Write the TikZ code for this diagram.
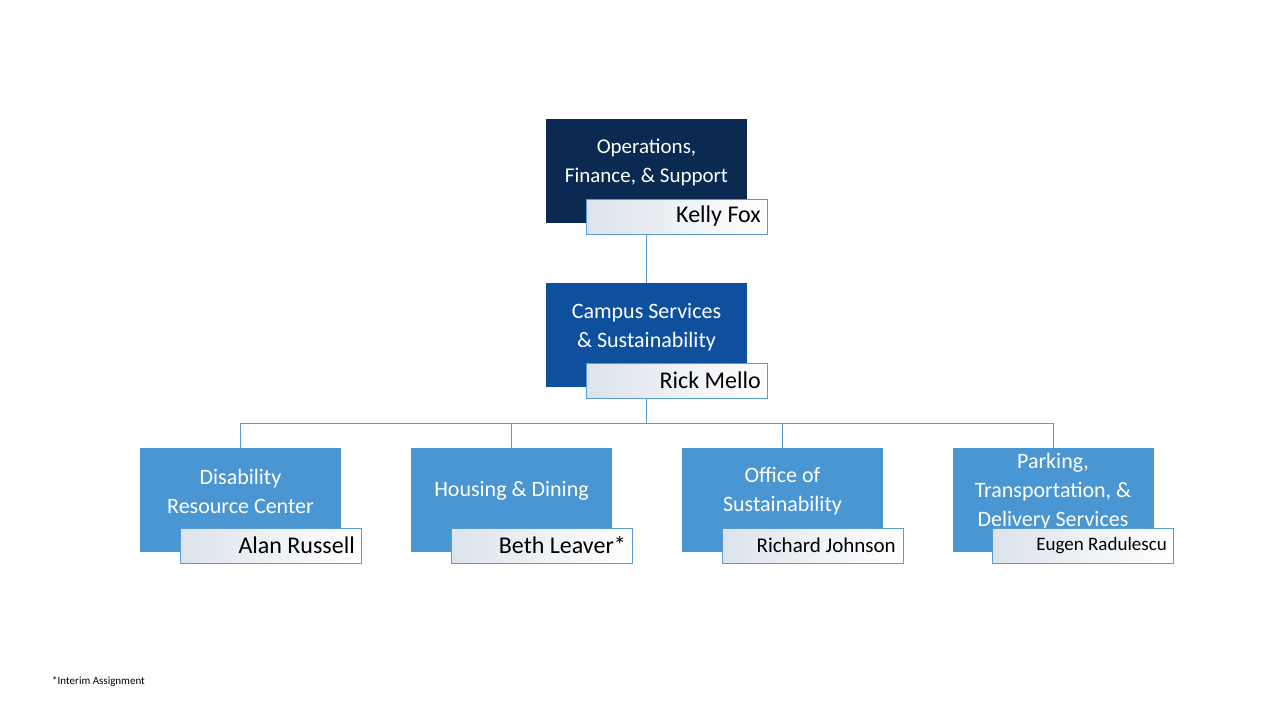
\documentclass[tikz,border=0pt]{standalone}
\usepackage{fontspec}
\setmainfont{Carlito}
\definecolor{navy}{HTML}{0B2A52}
\definecolor{midblue}{HTML}{0E4F9E}
\definecolor{lightblue}{HTML}{4A96D2}
\definecolor{edge}{HTML}{5B9BD5}
\definecolor{shadeL}{HTML}{DCE3EC}
\begin{document}
\begin{tikzpicture}[x=1pt,y=-1pt,
  unitbox/.style={draw=none,minimum width=201pt,minimum height=104pt,inner sep=0pt},
  namebox/.style={draw=edge,line width=0.8pt,left color=shadeL,right color=white,minimum width=181pt,minimum height=35pt,inner sep=0pt},
  utext/.style={text=white,align=center,font=\fontsize{22}{29}\selectfont},
  ntext/.style={anchor=east,text=black,inner sep=0pt},
  conn/.style={draw=edge,line width=0.8pt}]
\useasboundingbox (0,0) rectangle (1280,720);
\fill[white] (0,0) rectangle (1280,720);
% top
\node[unitbox,fill=navy] (ofs) at (646.5,170.5) {};
\node[utext,font=\fontsize{21}{29}\selectfont] (ofst) at (646.5,162) {Operations,\\Finance, \& Support};
\node[unitbox,fill=midblue] (css) at (646.5,335) {};
\node[utext] (csst) at (646.5,327) {Campus Services\\\& Sustainability};
\draw[conn] (ofs.south) -- (css.north);
\node[namebox] (kf) at (676.5,216.5) {};
\node[ntext,font=\fontsize{24}{28}\selectfont] (kft) at (761,216) {Kelly Fox};
\coordinate (bus) at (646.5,423);
\foreach \n/\x/\t in {drc/240.5/{Disability\\Resource Center},hd/511.5/{Housing \& Dining},os/782.5/{Office of\\Sustainability},pt/1053/{Parking,\\Transportation, \&\\Delivery Services}}{
  \node[unitbox,fill=lightblue] (\n) at (\x,500) {};
  \draw[conn] (\n.north) -- (\x,423);
}
\node[utext] (drct) at (240.5,491) {Disability\\Resource Center};
\node[utext] (hdt) at (511.5,491) {Housing \& Dining};
\node[utext] (ost) at (782.5,491) {Office of\\Sustainability};
\node[utext] (ptt) at (1053,492) {Parking,\\Transportation, \&\\Delivery Services};
\draw[conn] (css.south) -- (bus);
\draw[conn] (drc.north |- bus) -- (pt.north |- bus);
\node[namebox] (rm) at (676.5,381) {};
\node[ntext,font=\fontsize{24}{28}\selectfont] (rmt) at (761,380.5) {Rick Mello};
\node[namebox] (ar) at (270.5,546) {};
\node[ntext,font=\fontsize{24}{28}\selectfont] (art) at (355,545.5) {Alan Russell};
\node[namebox] (bl) at (541.5,546) {};
\node[ntext,font=\fontsize{24}{28}\selectfont] (blt) at (626,545.5) {Beth Leaver*};
\node[namebox] (rj) at (812.5,546) {};
\node[ntext,font=\fontsize{21}{26}\selectfont] (rjt) at (896,545) {Richard Johnson};
\node[namebox] (er) at (1083,546) {};
\node[ntext,font=\fontsize{19}{24}\selectfont] (ert) at (1167,546) {Eugen Radulescu};
\node[anchor=west,inner sep=0pt,font=\fontsize{11}{13}\selectfont] (note) at (52,681.5) {*Interim Assignment};
\end{tikzpicture}
\end{document}
